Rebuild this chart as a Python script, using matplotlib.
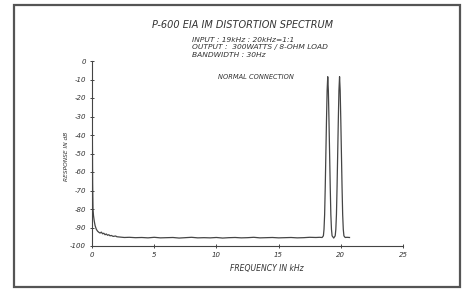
import matplotlib
matplotlib.use('Agg')
import matplotlib.pyplot as plt
from matplotlib.patches import Rectangle

# Spectrum (kHz, dB)
freq_khz = [0.03, 0.03, 0.05, 0.08, 0.12, 0.18, 0.25, 0.35, 0.45, 0.55, 0.65, 0.75,
            0.85, 0.95, 1.05, 1.15, 1.25, 1.35, 1.45, 1.55, 1.7, 1.9, 2.0, 2.3,
            2.6, 3.0, 3.5, 4.0, 4.5, 5.0, 5.5, 6.0, 6.5, 7.0, 7.5, 8.0, 8.5, 9.0,
            9.5, 10.0, 10.5, 11.0, 11.5, 12.0, 12.5, 13.0, 13.5, 14.0, 14.5,
            15.0, 15.5, 16.0, 16.5, 17.0, 17.5, 18.0, 18.3, 18.5, 18.6, 18.65,
            18.7, 18.75, 18.8, 18.85, 18.9, 18.95, 19.0, 19.05, 19.1, 19.15,
            19.2, 19.25, 19.3, 19.43, 19.55, 19.6, 19.65, 19.7, 19.75, 19.8,
            19.85, 19.9, 19.95, 20.0, 20.05, 20.1, 20.15, 20.2, 20.25, 20.35,
            20.5, 20.7]
level_db = [-100.0, -42.0, -66.0, -80.0, -83.5, -86.5, -89.0, -91.0, -92.0, -92.6,
            -93.0, -92.5, -93.4, -93.1, -93.9, -93.5, -94.2, -93.9, -94.5, -94.3,
            -94.8, -94.6, -95.0, -95.2, -95.4, -95.3, -95.5, -95.4, -95.6, -95.3,
            -95.6, -95.5, -95.4, -95.7, -95.5, -95.3, -95.6, -95.5, -95.6, -95.4,
            -95.7, -95.5, -95.4, -95.6, -95.5, -95.3, -95.6, -95.5, -95.4, -95.6,
            -95.5, -95.4, -95.6, -95.5, -95.3, -95.4, -95.3, -95.4, -94.5, -91.0,
            -83.0, -68.0, -50.0, -32.0, -16.0, -8.5, -16.0, -32.0, -50.0, -68.0,
            -83.0, -91.0, -94.5, -95.7, -94.5, -91.0, -83.0, -68.0, -50.0, -32.0,
            -16.0, -8.5, -16.0, -32.0, -50.0, -68.0, -83.0, -91.0, -94.5, -95.4,
            -95.3, -95.4]

x_ticks = [0, 5, 10, 15, 20, 25]
y_ticks = [0, -10, -20, -30, -40, -50, -60, -70, -80, -90, -100]

W, H = 465, 289
plt.rcParams['font.family'] = 'DejaVu Sans'
plt.rcParams['font.style'] = 'italic'

fig = plt.figure(figsize=(W / 100, H / 100), dpi=100)

def fx(px):
    return px / W

def fy(py):
    return 1 - py / H

# outer frame
fig.patches.append(Rectangle((fx(14), fy(287)), fx(460) - fx(14), fy(5) - fy(287),
                             transform=fig.transFigure, fill=False,
                             edgecolor='#555555', linewidth=1.6))

ax = fig.add_axes([fx(92), fy(246), fx(403) - fx(92), fy(61) - fy(246)])
ax.plot(freq_khz, level_db, color='#454545', linewidth=0.9)
ax.set_xlim(0, 25)
ax.set_ylim(-100, 0)
ax.set_xticks(x_ticks)
ax.set_yticks(y_ticks)
ax.set_xticklabels([str(t) for t in x_ticks])
ax.set_yticklabels([str(t) for t in y_ticks])
ax.spines['top'].set_visible(False)
ax.spines['right'].set_visible(False)
for s in ['left', 'bottom']:
    ax.spines[s].set_color('#444444')
    ax.spines[s].set_linewidth(0.8)
ax.tick_params(direction='inout', length=3, width=0.7, color='#444444',
               labelsize=5, labelcolor='#333333', pad=3)

fig.text(fx(242), fy(25), 'P-600 EIA IM DISTORTION SPECTRUM', ha='center',
         va='center', fontsize=7, color='#333333')
sub = ['INPUT : 19kHz : 20kHz=1:1',
       'OUTPUT :  300WATTS / 8-OHM LOAD',
       'BANDWIDTH : 30Hz']
for i, line in enumerate(sub):
    fig.text(fx(192), fy(39.5 + 8 * i), line, ha='left', va='center',
             fontsize=5.4, color='#333333')
fig.text(fx(256), fy(77), 'NORMAL CONNECTION', ha='center', va='center',
         fontsize=4.8, color='#333333')
fig.text(fx(67), fy(156), 'RESPONSE IN dB', rotation=90, ha='center',
         va='center', fontsize=4.2, color='#333333')
fig.text(fx(267), fy(268), 'FREQUENCY IN kHz', ha='center', va='center',
         fontsize=5.5, color='#333333')

fig.savefig('out.png', dpi=100, facecolor='white')
